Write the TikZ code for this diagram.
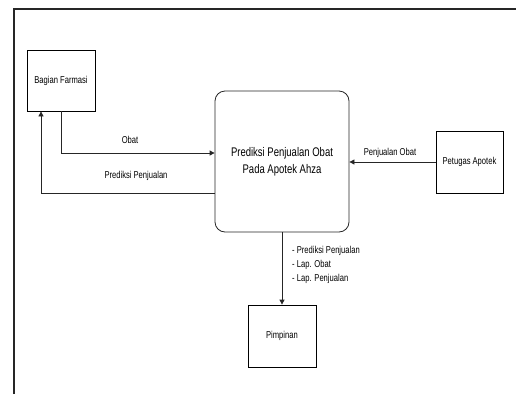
\documentclass[tikz,border=0pt]{standalone}
\usepackage{fontspec}
\setmainfont[FakeStretch=0.76]{Liberation Sans}
\usetikzlibrary{arrows.meta}
\begin{document}
\begin{tikzpicture}[x=1pt,y=-1pt,
  ent/.style={draw=black,line width=0.8pt,minimum width=68pt,minimum height=61pt,inner sep=0pt,font=\fontsize{10}{12}\selectfont},
  proc/.style={draw=black!85,line width=0.8pt,rounded corners=10pt,minimum width=134pt,minimum height=141pt,align=center,font=\fontsize{12.5}{17}\selectfont},
  flow/.style={draw=black!85,line width=0.8pt,-{Triangle[length=5pt,width=5pt]}},
  lbl/.style={font=\fontsize{10}{14}\selectfont,inner sep=0pt},
  frame/.style={draw=black!85,line width=1.2pt}]
\useasboundingbox (0,0) rectangle (516,394);
\draw[frame] (14,394) -- (14,9) -- (516,9);
\node[ent] (farm) at (61,80.5) {Bagian Farmasi};
\node[proc] (main) at (282,161.5) {Prediksi Penjualan Obat\\Pada Apotek Ahza};
\node[ent,minimum width=67pt,minimum height=62pt] (pet) at (469.5,162) {Petugas Apotek};
\node[ent,minimum height=62pt] (pim) at (282,336) {Pimpinan};
\draw[flow] (farm.south) |- ([yshift=8.5pt]main.west);
\draw[flow] ([yshift=-31.5pt]main.west) -| ([xshift=-20pt]farm.south);
\draw[flow] (pet.west) -- (pet.west -| main.east);
\draw[flow] (main.south) -- (pim.north);
\node[lbl] (l1) at (130,140) {Obat};
\node[lbl] (l2) at (136,176) {Prediksi Penjualan};
\node[lbl] (l3) at (390,153) {Penjualan Obat};
\node[lbl,align=left,anchor=north west] (l4) at (292,246) {- Prediksi Penjualan\\- Lap. Obat\\- Lap. Penjualan};
\end{tikzpicture}
\end{document}
